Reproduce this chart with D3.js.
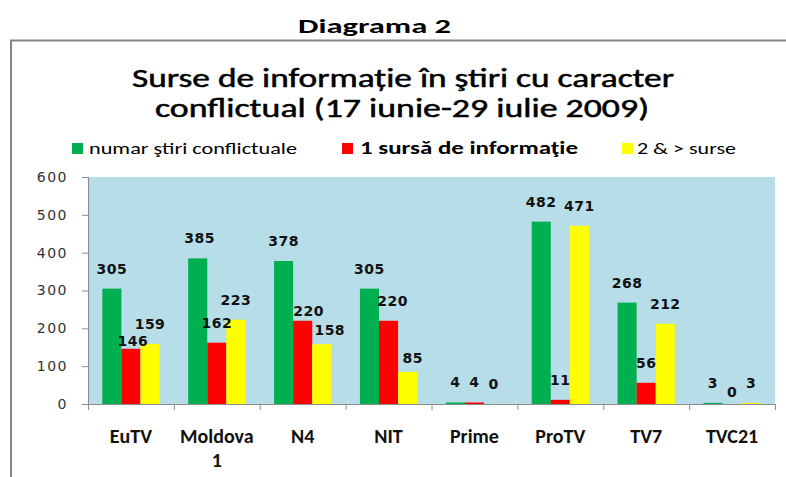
<!DOCTYPE html>
<html>
<head>
<meta charset="utf-8">
<script src="https://cdn.jsdelivr.net/npm/d3@7"></script>
<style>
  body { margin: 0; background: #fff; }
  svg { display: block; }
</style>
</head>
<body>
<svg id="chart"></svg>
<script>
// values
const categories = ["EuTV", "Moldova 1", "N4", "NIT", "Prime", "ProTV", "TV7", "TVC21"];
const seriesNames = ["numar ştiri conflictuale", "1 sursă de informaţie", "2 & > surse"];
const stiriConflictuale = [305, 385, 378, 305, 4, 482, 268, 3];
const oSursa = [146, 162, 220, 220, 4, 11, 56, 0];
const douaSurse = [159, 223, 158, 85, 0, 471, 212, 3];
const yTicks = [0, 100, 200, 300, 400, 500, 600];

const W = 786, H = 477;
const margin = {top: 177, right: 11, bottom: 73, left: 88},
  width = W - margin.left - margin.right,
  height = H - margin.top - margin.bottom;

const colors = ["#00b050", "#ff0000", "#ffff00"];

// some data labels were dragged by hand in the original
const nudge = {
  "EuTV|1": [2, 12],
  "Moldova 1|0": [2, 0],
  "N4|1": [6, 10],
  "N4|2": [8, 6],
  "NIT|1": [4, 0],
  "NIT|2": [5, 6],
  "TVC21|1": [0, 8]
};

const root = d3.select("#chart")
  .attr("width", W)
  .attr("height", H);

// outer frame (top and left edges visible)
root.append("path")
  .attr("d", `M11,${H} L11,40.5 L${W},40.5`)
  .attr("fill", "none")
  .attr("stroke", "#858585")
  .attr("stroke-width", 2);

root.append("text")
  .attr("x", 298).attr("y", 33)
  .attr("textLength", 153).attr("lengthAdjust", "spacingAndGlyphs")
  .style("font-family", "Carlito, Lato, sans-serif")
  .style("font-weight", "bold")
  .style("font-size", "21px")
  .text("Diagrama 2");

const titleLines = [
  {text: "Surse de informație în ştiri cu caracter", x: 132, y: 87, w: 542},
  {text: "conflictual (17 iunie-29 iulie 2009)", x: 155, y: 117, w: 494}
];
titleLines.forEach(t => {
  root.append("text")
    .attr("x", t.x).attr("y", t.y)
    .attr("textLength", t.w).attr("lengthAdjust", "spacingAndGlyphs")
    .attr("stroke", "#000").attr("stroke-width", 0.5)
    .style("font-family", "Carlito, Lato, sans-serif")
    .style("font-size", "27px")
    .text(t.text);
});

// legend
const legendItems = [
  {x: 72, tx: 89, w: 208, bold: false},
  {x: 342, tx: 360, w: 218, bold: true},
  {x: 622, tx: 637, w: 99, bold: false}
];
const legend = root.append("g");
legendItems.forEach((it, i) => {
  legend.append("rect")
    .attr("x", it.x).attr("y", 143)
    .attr("width", 11).attr("height", 11)
    .attr("fill", colors[i]);
  legend.append("text")
    .attr("x", it.tx).attr("y", 154)
    .attr("textLength", it.w).attr("lengthAdjust", "spacingAndGlyphs")
    .style("font-family", "Carlito, Lato, sans-serif")
    .style("font-size", "17px")
    .style("font-weight", it.bold ? "bold" : "normal")
    .text(seriesNames[i]);
});

const svg = root.append("g")
  .attr("transform", `translate(${margin.left},${margin.top})`);

svg.append("rect")
  .attr("width", width)
  .attr("height", height)
  .attr("fill", "#b7dee8");

const x0 = d3.scaleBand()
  .domain(categories)
  .range([0, width]);

const x1 = d3.scaleBand()
  .domain([0, 1, 2])
  .range([0, x0.bandwidth()])
  .paddingOuter(0.75);

const y = d3.scaleLinear()
  .domain([0, 600])
  .range([height, 0]);

const rows = categories.map((c, i) => ({
  cat: c,
  vals: [stiriConflictuale[i], oSursa[i], douaSurse[i]]
}));

const groups = svg.selectAll("g.grp")
  .data(rows)
  .join("g")
    .attr("class", "grp")
    .attr("transform", d => `translate(${x0(d.cat)},0)`);

groups.selectAll("rect")
  .data(d => d.vals.map((v, j) => ({v, j})))
  .join("rect")
    .attr("x", d => x1(d.j))
    .attr("y", d => y(d.v))
    .attr("width", x1.bandwidth())
    .attr("height", d => height - y(d.v))
    .attr("fill", d => colors[d.j]);

groups.selectAll("text")
  .data(d => d.vals.map((v, j) => ({v, j, cat: d.cat})))
  .join("text")
    .attr("x", d => x1(d.j) + x1.bandwidth() / 2 + (nudge[d.cat + "|" + d.j] || [0, 0])[0])
    .attr("y", d => y(d.v) - 15 + (nudge[d.cat + "|" + d.j] || [0, 0])[1])
    .attr("text-anchor", "middle")
    .style("font-family", "'DejaVu Sans', sans-serif")
    .style("font-weight", "bold")
    .style("font-size", "14px")
    .style("letter-spacing", "0.5px")
    .attr("fill", "#111")
    .text(d => d.v);

// y axis
const yAxis = svg.append("g")
  .call(d3.axisLeft(y).tickValues(yTicks).tickSize(6).tickPadding(14));
yAxis.select(".domain").attr("stroke", "#8c8c8c");
yAxis.selectAll(".tick line").attr("stroke", "#8c8c8c");
yAxis.selectAll(".tick text")
  .style("font-family", "'DejaVu Sans', sans-serif")
  .style("font-size", "14px")
  .style("letter-spacing", "1.5px")
  .attr("fill", "#333");

// x axis: line with ticks between categories
svg.append("line")
  .attr("x1", 0).attr("x2", width)
  .attr("y1", height + 0.5).attr("y2", height + 0.5)
  .attr("stroke", "#8c8c8c");

svg.selectAll("line.sep")
  .data(categories.map(c => x0(c)).concat([width]))
  .join("line")
    .attr("class", "sep")
    .attr("x1", d => d + 0.5).attr("x2", d => d + 0.5)
    .attr("y1", height).attr("y2", height + 6)
    .attr("stroke", "#8c8c8c");

const catLabels = svg.selectAll("text.cat")
  .data(categories)
  .join("text")
    .attr("class", "cat")
    .attr("text-anchor", "middle")
    .attr("transform", d => `translate(${x0(d) + x0.bandwidth() / 2},${height + 39})`)
    .style("font-family", "Carlito, Lato, sans-serif")
    .style("font-weight", "bold")
    .style("font-size", "20px")
    .attr("fill", "#111");

catLabels.selectAll("tspan")
  .data(d => d.split(" "))
  .join("tspan")
    .attr("x", 0)
    .attr("dy", (d, i) => i === 0 ? 0 : 23.5)
    .text(d => d);
</script>
</body>
</html>
